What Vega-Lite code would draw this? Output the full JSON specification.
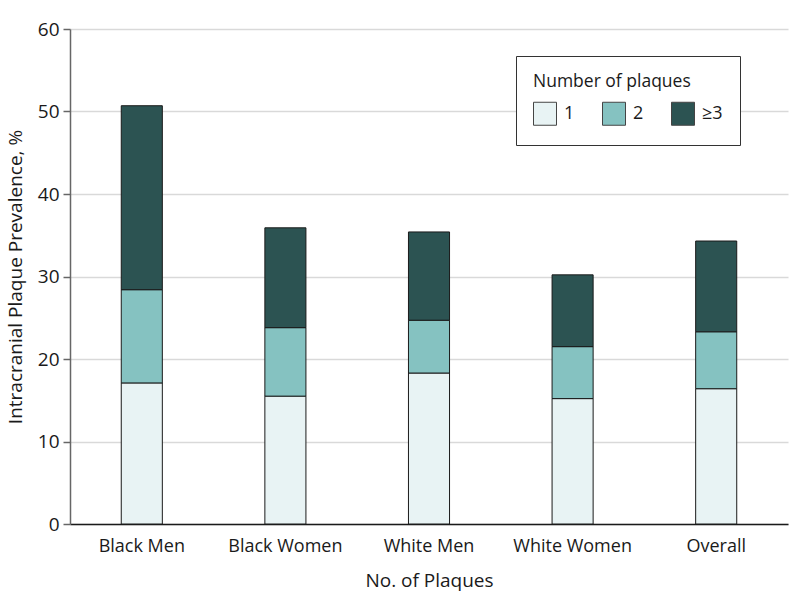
{
  "$schema": "https://vega.github.io/schema/vega-lite/v6.json",
  "autosize": {"type": "none"},
  "width": 718,
  "height": 495,
  "padding": {"left": 70, "top": 29, "right": 10, "bottom": 85},
  "background": "white",
  "config": {
    "font": "Open Sans",
    "view": {"stroke": null}
  },
  "data": {
    "values": [
      {"group": "Black Men", "plaques": "1", "k": 1, "value": 17.1},
      {"group": "Black Men", "plaques": "2", "k": 2, "value": 11.3},
      {"group": "Black Men", "plaques": "≥3", "k": 3, "value": 22.3},
      {"group": "Black Women", "plaques": "1", "k": 1, "value": 15.5},
      {"group": "Black Women", "plaques": "2", "k": 2, "value": 8.3},
      {"group": "Black Women", "plaques": "≥3", "k": 3, "value": 12.1},
      {"group": "White Men", "plaques": "1", "k": 1, "value": 18.3},
      {"group": "White Men", "plaques": "2", "k": 2, "value": 6.4},
      {"group": "White Men", "plaques": "≥3", "k": 3, "value": 10.7},
      {"group": "White Women", "plaques": "1", "k": 1, "value": 15.2},
      {"group": "White Women", "plaques": "2", "k": 2, "value": 6.3},
      {"group": "White Women", "plaques": "≥3", "k": 3, "value": 8.7},
      {"group": "Overall", "plaques": "1", "k": 1, "value": 16.4},
      {"group": "Overall", "plaques": "2", "k": 2, "value": 6.9},
      {"group": "Overall", "plaques": "≥3", "k": 3, "value": 11.0}
    ]
  },
  "mark": {"type": "bar", "stroke": "#1a1a1a", "strokeWidth": 1},
  "encoding": {
    "x": {
      "field": "group",
      "type": "nominal",
      "sort": ["Black Men", "Black Women", "White Men", "White Women", "Overall"],
      "scale": {"paddingInner": 0.714, "paddingOuter": 0.357},
      "axis": {
        "title": "No. of Plaques",
        "titleFontSize": 19,
        "titleFontWeight": "normal",
        "titleColor": "#1a1a1a",
        "titlePadding": 16,
        "labelFontSize": 18,
        "labelColor": "#1a1a1a",
        "labelAngle": 0,
        "labelPadding": 13,
        "ticks": false,
        "domainColor": "#1a1a1a",
        "domainWidth": 1.5
      }
    },
    "y": {
      "field": "value",
      "type": "quantitative",
      "stack": "zero",
      "scale": {"domain": [0, 60]},
      "axis": {
        "title": "Intracranial Plaque Prevalence, %",
        "titleFontSize": 19,
        "titleFontWeight": "normal",
        "titleColor": "#1a1a1a",
        "titlePadding": 12,
        "values": [0, 10, 20, 30, 40, 50, 60],
        "labelFontSize": 19,
        "labelColor": "#1a1a1a",
        "labelPadding": 4,
        "tickSize": 7,
        "tickColor": "#666666",
        "tickWidth": 1.5,
        "domainColor": "#666666",
        "domainWidth": 1.5,
        "grid": true,
        "gridColor": "#d9d9d9",
        "gridWidth": 1.5
      }
    },
    "color": {
      "field": "plaques",
      "type": "nominal",
      "scale": {"domain": ["1", "2", "≥3"], "range": ["#E8F3F4", "#85C2C1", "#2C5352"]},
      "legend": {
        "title": "Number of plaques",
        "orient": "none",
        "legendX": 446,
        "legendY": 27,
        "direction": "horizontal",
        "titleFontSize": 17.5,
        "titleFontWeight": "normal",
        "titleColor": "#1a1a1a",
        "titlePadding": 11,
        "labelFontSize": 18,
        "labelColor": "#1a1a1a",
        "labelOffset": 7,
        "symbolType": "square",
        "symbolSize": 529,
        "symbolStrokeColor": "#444444",
        "symbolStrokeWidth": 1,
        "symbolOpacity": 1,
        "columnPadding": 25,
        "padding": 17,
        "strokeColor": "#333333",
        "fillColor": "white"
      }
    },
    "order": {"field": "k", "sort": "ascending"}
  }
}
